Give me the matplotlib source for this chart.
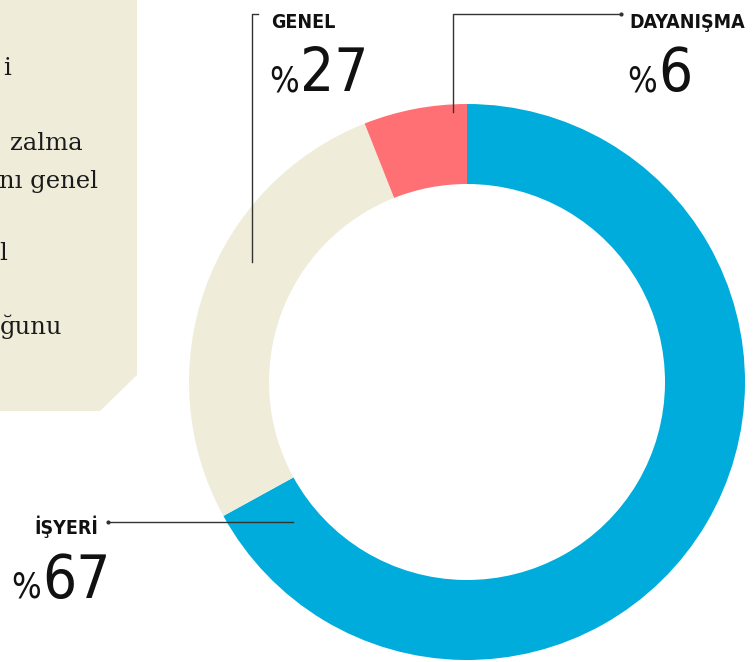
import matplotlib.pyplot as plt
import matplotlib.font_manager as fm
from matplotlib.patches import Polygon

# data
labels = ["İŞYERİ", "GENEL", "DAYANIŞMA"]
values = [67, 27, 6]
colors = ["#00acdc", "#efecd9", "#ff7075"]

# clipped fragments of the side-panel text (right ends visible)
panel_lines = ["i", "zalma", "nı genel", "l", "ğunu"]

W, H = 756, 662
fig = plt.figure(figsize=(W / 100, H / 100), dpi=100)
ax = fig.add_axes([0, 0, 1, 1])


def py(y):
    # image pixel y -> data y
    return H - y


# pick a narrow sans for the labels
names = {f.name for f in fm.fontManager.ttflist}
if "Liberation Sans Narrow" in names:
    cond = dict(family="Liberation Sans Narrow")
else:
    cond = dict(family="DejaVu Sans", fontstretch="condensed")

# beige side panel with chamfered corner
panel = Polygon([(0, py(0)), (137, py(0)), (137, py(375)), (100, py(411)), (0, py(411))],
                closed=True, facecolor="#efecd9", edgecolor="none", zorder=0)
ax.add_patch(panel)

panel_x = [11, 83, 98, 7, 62]
panel_y = [75, 150, 188, 260, 334]
for txt, x, y in zip(panel_lines, panel_x, panel_y):
    ax.text(x, py(y), txt, ha="right", va="baseline", fontsize=17.5,
            family="DejaVu Serif", color="#1a1a1a")

# donut
ax.pie(values, colors=colors, startangle=90, counterclock=False,
       center=(467, py(382)), radius=278,
       wedgeprops=dict(width=80, edgecolor="none"))

ax.set_xlim(0, W)
ax.set_ylim(0, H)
ax.set_aspect("equal")
ax.axis("off")

# leader lines
lc = "#333333"
ax.plot([252, 252, 258], [py(262), py(14), py(14)], color=lc, lw=1)
ax.plot([453, 453, 620], [py(112), py(14), py(14)], color=lc, lw=1)
ax.plot([621], [py(14)], "o", color=lc, ms=2)
ax.plot([108, 293], [py(522), py(522)], color=lc, lw=1)
ax.plot([108], [py(522)], "o", color=lc, ms=2)

tc = "#111111"
lab_kw = dict(fontweight="bold", color=tc, fontsize=14, va="baseline", **cond)
pct_kw = dict(color=tc, fontsize=25, va="baseline", ha="left", **cond)
num_kw = dict(color=tc, fontsize=43, va="baseline", ha="left", **cond)

renderer = fig.canvas.get_renderer()


def big_value(x, y, v):
    # small "%" followed by the big number
    p = ax.text(x, py(y), "%", **pct_kw)
    bb = p.get_window_extent(renderer)
    x1 = ax.transData.inverted().transform((bb.x1, bb.y0))[0]
    ax.text(x1 + 1, py(y), str(v), **num_kw)


# GENEL
ax.text(271, py(28), labels[1], ha="left", **lab_kw)
big_value(269, 91, values[1])

# DAYANIŞMA
ax.text(629, py(28), labels[2], ha="left", **lab_kw)
big_value(627, 91, values[2])

# İŞYERİ
ax.text(98, py(534), labels[0], ha="right", **lab_kw)
big_value(11, 598, values[0])

fig.savefig("out.png", dpi=100, facecolor="white")
